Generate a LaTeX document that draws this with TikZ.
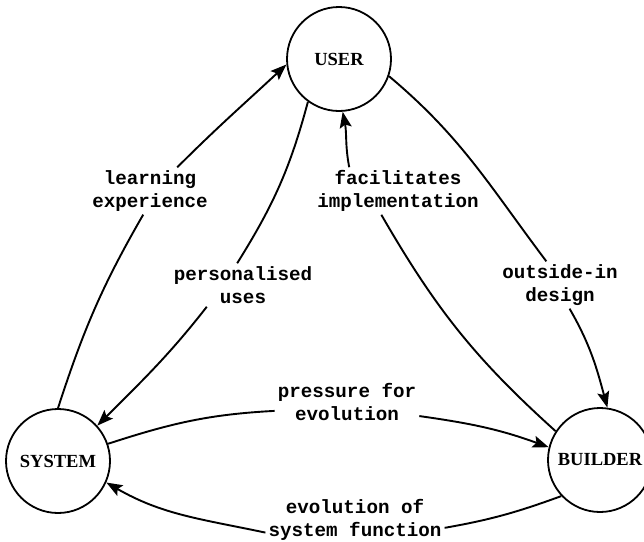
\documentclass[tikz,border=0pt]{standalone}
\usepackage{fontspec}
\setmainfont{Liberation Serif}
\newfontfamily\labelfont{Liberation Mono}
\usetikzlibrary{arrows.meta}
\begin{document}
\begin{tikzpicture}[x=1pt,y=1pt,
  actor/.style={circle, draw, line width=1.8pt, minimum size=104pt, inner sep=0pt,
    font=\fontsize{18.5}{20}\selectfont\bfseries},
  tag/.style={align=center, inner sep=3pt,
    font=\labelfont\bfseries\fontsize{19.2}{23}\selectfont},
  link/.style={line width=1.9pt},
  flow/.style={link, -{Stealth[length=16pt,width=12pt,inset=3pt]}}]
\useasboundingbox (0,0) rectangle (644,-541);

% the three parties
\node[actor] (usr) at (339,-59)  {USER};
\node[actor] (sys) at (58,-461)  {SYSTEM};
\node[actor] (bld) at (600,-460) {BUILDER};

% relation labels
\node[tag] (l1) at (150,-191) {learning\\experience};
\node[tag] (l2) at (243,-285) {personalised\\uses};
\node[tag] (l3) at (398,-191) {facilitates\\implementation};
\node[tag] (l4) at (560,-285) {outside-in\\design};
\node[tag] (l5) at (347,-402) {pressure for\\evolution};
\node[tag] (l6) at (355,-520) {evolution of\\system function};

% system -> user
\draw[link] (sys.90) to[out=72,in=240] (l1.254);
\draw[flow] (l1.41) to[out=45,in=223] (usr.186);
% user -> system
\draw[link] (usr.234) to[out=255,in=58] (l2.105);
\draw[flow] (l2.211) to[out=232,in=45] (sys.42);
% builder -> user
\draw[link] (bld.147) to[out=138,in=300] (l3.235);
\draw[flow] (l3.154) to[out=101,in=281] (usr.274);
% user -> builder
\draw[link] (usr.-19) to[out=-40,in=127] (l4.120);
\draw[flow] (l4.-68) to[out=-60,in=105] (bld.82);
% system -> builder
\draw[link] (sys.19) to[out=18,in=183] (l5.187);
\draw[flow] (l5.-11) to[out=-8,in=160] (bld.166);
% builder -> system
\draw[link] (bld.223) to[out=200,in=10] (l6.-5);
\draw[flow] (l6.188) to[out=168,in=-30] (sys.-24);
\end{tikzpicture}
\end{document}
